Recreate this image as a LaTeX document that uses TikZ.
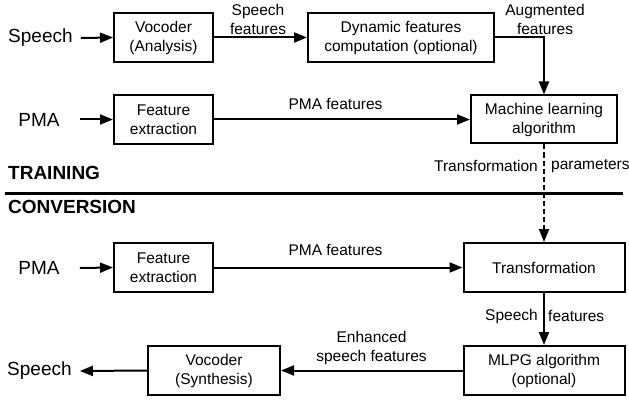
\documentclass[tikz,border=0pt]{standalone}
\usepackage{fontspec}
\setmainfont{Liberation Sans}
\usetikzlibrary{arrows.meta}
\begin{document}
\begin{tikzpicture}[x=1pt,y=-1pt,
  box/.style={draw,line width=2pt,minimum width=#1,minimum height=49pt,
    align=center,inner sep=0pt,font=\fontsize{15.5}{19}\selectfont},
  big/.style={inner sep=0pt,font=\fontsize{19}{22}\selectfont},
  heading/.style={inner sep=0pt,font=\fontsize{19}{22}\selectfont\bfseries},
  lbl/.style={inner sep=0pt,align=center,font=\fontsize{15.5}{19}\selectfont},
  flow/.style={line width=2pt,-{Triangle[length=13pt,width=10pt]}}]
\useasboundingbox (0,0) rectangle (629,401);

% training stage
\node[big,anchor=west] (speechIn) at (8,38) {Speech};
\node[box=99pt] (vocA) at (163.5,37.5) {Vocoder\\(Analysis)};
\node[box=186pt] (dyn) at (401,37.5) {Dynamic features\\computation (optional)};
\node[big] (pmaA) at (39,119.5) {PMA};
\node[box=99pt] (featA) at (163.5,119.5) {Feature\\extraction};
\node[box=146pt,minimum height=48pt] (ml) at (544,119.5) {Machine learning\\algorithm};

\draw[flow] ([xshift=8pt]speechIn.east) -- (vocA.west);
\draw[flow] (vocA.east) -- (dyn.west);
\node[lbl] (lblSF) at (258,19.5) {Speech\\features};
\draw[flow] (dyn.east) -| (ml.north);
\node[lbl] (lblAF) at (545,19) {Augmented\\features};
\draw[flow] ([xshift=20pt]pmaA.east) -- (featA.west);
\draw[flow] (featA.east) -- (ml.west);
\node[lbl] (lblPA) at (335.5,104) {PMA features};

% stage separator
\node[heading,anchor=west] (train) at (8,173) {TRAINING};
\coordinate (sepL) at (5,193);
\coordinate (sepR) at (623,193);
\draw[line width=3pt] (sepL) -- (sepR);
\node[heading,anchor=west] (conv) at (8,207) {CONVERSION};

% conversion stage
\node[big] (pmaB) at (39,268) {PMA};
\node[box=99pt] (featB) at (163.5,267.5) {Feature\\extraction};
\node[box=161pt] (trans) at (544,267.5) {Transformation};
\node[box=161pt] (mlpg) at (544,370.5) {MLPG algorithm\\(optional)};
\node[box=132pt] (vocS) at (214,370.5) {Vocoder\\(Synthesis)};
\node[big,anchor=west] (speechOut) at (7,371) {Speech};

\draw[flow,dash pattern=on 5pt off 3pt] (ml.south) -- (trans.north);
\node[lbl,anchor=east] (lblT) at (538,166) {Transformation};
\node[lbl,anchor=west] (lblP) at (551,166) {parameters};

\draw[flow] ([xshift=20pt]pmaB.east) -- (featB.west);
\draw[flow] (featB.east) -- (trans.west);
\node[lbl] (lblPB) at (335.5,250) {PMA features};

\draw[flow] (trans.south) -- (mlpg.north);
\node[lbl,anchor=east] (lblS) at (538,316) {Speech};
\node[lbl,anchor=west] (lblF) at (548,316) {features};

\draw[flow] (mlpg.west) -- (vocS.east);
\node[lbl] (lblE) at (371.5,348) {Enhanced\\speech features};
\draw[flow] (vocS.west) -- ([xshift=8pt]speechOut.east);
\end{tikzpicture}
\end{document}
